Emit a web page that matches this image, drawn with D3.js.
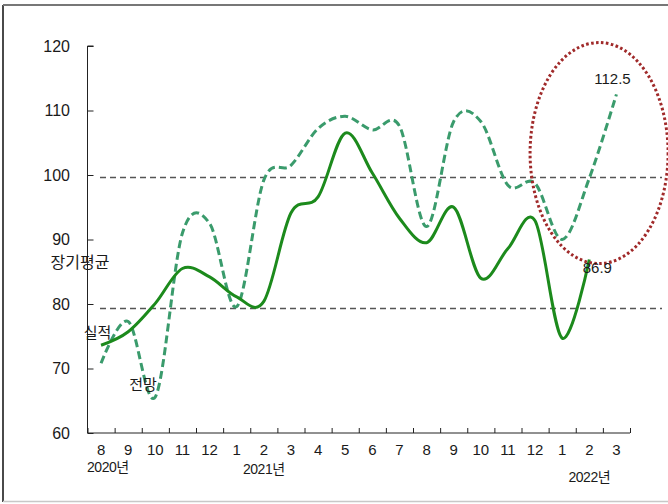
<!DOCTYPE html>
<html>
<head>
<meta charset="utf-8">
<script src="https://cdn.jsdelivr.net/npm/d3@7"></script>
<style>
  html, body { margin: 0; padding: 0; background: #fff; }
  svg { display: block; }
  text { font-family: "Liberation Sans", "Noto Sans CJK KR", sans-serif; fill: #1a1a1a; }
  .kr { font-family: "Noto Sans CJK KR", "Liberation Sans", sans-serif; }
</style>
</head>
<body>
<svg id="chart" width="668" height="504"></svg>
<script>
// Monthly categories: Aug 2020 .. Mar 2022
const months = ["8","9","10","11","12","1","2","3","4","5","6","7","8","9","10","11","12","1","2","3"];
const yearLabels = [
  { text: "2020년", at: 0.25, row: 0 },
  { text: "2021년", at: 6.0, row: 1 },
  { text: "2022년", at: 18.0, row: 2 }
];
// 실적 (actual), ends at Feb 2022
const actual = [73.6, 75.7, 80.1, 85.5, 84.2, 81.1, 80.4, 94.1, 96.6, 106.5,
                100.3, 93.3, 89.5, 95.0, 84.0, 88.6, 92.9, 74.7, 86.9];
// 전망 (outlook), ends at Mar 2022
const outlook = [70.8, 77.3, 65.6, 91.0, 92.5, 79.6, 99.2, 101.5, 107.2, 109.1,
                 107.0, 107.6, 92.0, 108.3, 108.3, 98.4, 98.7, 90.0, 99.5, 112.5];
// 장기평균 reference levels
const longAvg = [99.6, 79.3];
const yTicks = [60, 70, 80, 90, 100, 110, 120];

const svg = d3.select("#chart");

const x = d3.scaleLinear().domain([-0.5, months.length - 0.5]).range([87.5, 630]);
const y = d3.scaleLinear().domain([60, 120]).range([433, 46]);

// outer frame
svg.append("line").attr("x1", 3).attr("x2", 3).attr("y1", 5).attr("y2", 502)
  .attr("stroke", "#4a4a4a").attr("stroke-width", 2);
svg.append("line").attr("x1", 3).attr("x2", 668).attr("y1", 5).attr("y2", 5)
  .attr("stroke", "#777").attr("stroke-width", 2);
svg.append("line").attr("x1", 3).attr("x2", 668).attr("y1", 501.5).attr("y2", 501.5)
  .attr("stroke", "#c8c8c8").attr("stroke-width", 1.5);

// y axis with inward ticks
const yAxis = d3.axisRight(y).tickValues(yTicks).tickSize(6).tickFormat("");
const gy = svg.append("g").attr("transform", `translate(${x(-0.5)},0)`).call(yAxis);
gy.select(".domain").attr("stroke", "#222").attr("d", `M6,${y(120)}H0V${y(60)}`);
gy.selectAll(".tick line").attr("stroke", "#222");

svg.append("g").selectAll("text").data(yTicks).join("text")
  .attr("x", 70).attr("y", d => y(d)).attr("dy", "0.36em")
  .attr("text-anchor", "end").attr("font-size", 16)
  .text(d => d);

// x axis: ticks at month boundaries, pointing up
const bounds = d3.range(months.length + 1).map(i => i - 0.5);
const xAxis = d3.axisTop(x).tickValues(bounds).tickSize(5).tickFormat("");
const gx = svg.append("g").attr("transform", `translate(0,${y(60)})`).call(xAxis);
gx.select(".domain").attr("stroke", "#222").attr("d", `M${x(-0.5)},0H${x(months.length - 0.5)}`);
gx.selectAll(".tick line").attr("stroke", "#222");

svg.append("g").selectAll("text").data(months).join("text")
  .attr("x", (d, i) => x(i)).attr("y", 449.5).attr("dy", "0.36em")
  .attr("text-anchor", "middle").attr("font-size", 15)
  .text(d => d);

const yearY = [467, 469, 477];
svg.append("g").selectAll("text").data(yearLabels).join("text")
  .attr("x", d => x(d.at)).attr("y", d => yearY[d.row]).attr("dy", "0.36em")
  .attr("text-anchor", "middle").attr("font-size", 14)
  .attr("letter-spacing", "-0.5")
  .text(d => d.text);

// long-term average lines
svg.append("g").selectAll("line").data(longAvg).join("line")
  .attr("x1", 100).attr("x2", 662)
  .attr("y1", d => y(d)).attr("y2", d => y(d))
  .attr("stroke", "#555").attr("stroke-width", 1.5).attr("stroke-dasharray", "6,4");

const line = d3.line()
  .x((d, i) => x(i))
  .y(d => y(d))
  .curve(d3.curveCardinal.tension(0));

// outlook (dashed)
svg.append("path").datum(outlook)
  .attr("d", line).attr("fill", "none")
  .attr("stroke", "#3a9b6c").attr("stroke-width", 3)
  .attr("stroke-dasharray", "8,4");

// actual (solid)
svg.append("path").datum(actual)
  .attr("d", line).attr("fill", "none")
  .attr("stroke", "#1c8a1c").attr("stroke-width", 3);

// highlight ellipse around the latest months
svg.append("ellipse")
  .attr("cx", x(18.36)).attr("cy", y(103.4))
  .attr("rx", 69).attr("ry", 110.5)
  .attr("fill", "none").attr("stroke", "#a02a2a").attr("stroke-width", 3)
  .attr("stroke-dasharray", "2.6,2.4");

// value labels for the latest points
const lastOut = outlook.length - 1, lastAct = actual.length - 1;
svg.append("text").attr("x", x(lastOut) - 4).attr("y", y(outlook[lastOut]) - 16)
  .attr("dy", "0.36em").attr("text-anchor", "middle").attr("font-size", 15)
  .text(outlook[lastOut]);
svg.append("text").attr("x", x(lastAct) + 8).attr("y", y(actual[lastAct]) + 8)
  .attr("dy", "0.36em").attr("text-anchor", "middle").attr("font-size", 15)
  .text(actual[lastAct]);

// series names
svg.append("text").attr("class", "kr").attr("x", 80).attr("y", 262).attr("dy", "0.36em")
  .attr("text-anchor", "middle").attr("font-size", 16).text("장기평균");
svg.append("text").attr("class", "kr").attr("x", 97.5).attr("y", 333).attr("dy", "0.36em")
  .attr("text-anchor", "middle").attr("font-size", 15).text("실적");
svg.append("text").attr("class", "kr").attr("x", 143).attr("y", 385).attr("dy", "0.36em")
  .attr("text-anchor", "middle").attr("font-size", 15).text("전망");
</script>
</body>
</html>
